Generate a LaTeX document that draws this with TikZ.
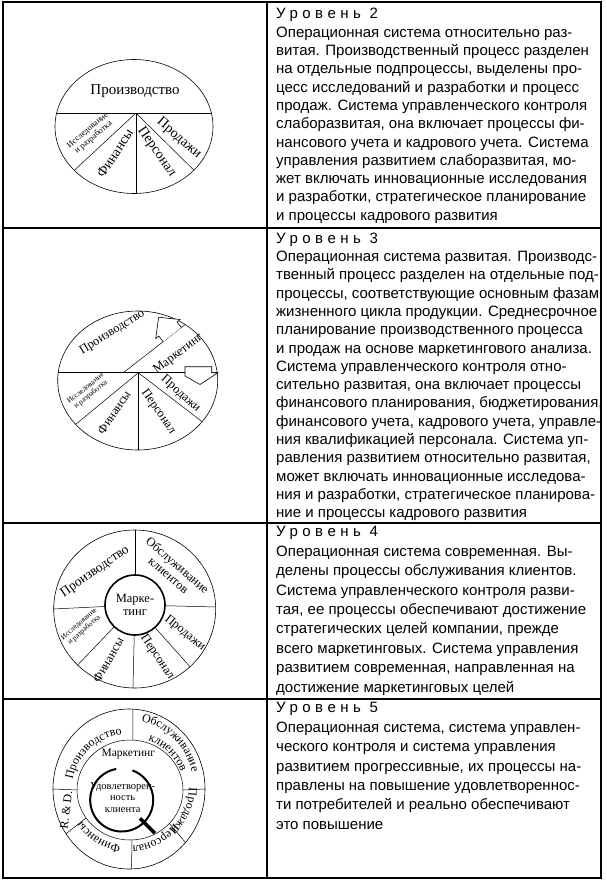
\documentclass[tikz,border=0pt]{standalone}
\usepackage{fontspec}
\setmainfont{Liberation Serif}
\setsansfont{Liberation Sans}
\usepackage{tikz}
\usetikzlibrary{decorations.text}
\newcommand{\levelhead}[1]{{\addfontfeature{LetterSpace=30}#1}}
\tikzset{
  tbl/.style={line width=1.2pt},
  seg/.style={line width=0.5pt},
  rim/.style={line width=0.6pt},
  blk/.style={line width=0.6pt, fill=white},
  hub/.style={circle, draw, line width=1.6pt, fill=white, minimum size=60pt, inner sep=0pt,
              align=center, font=\fontsize{12.5}{13.5}\selectfont},
  lab/.style={font=\fontsize{14}{15}\selectfont, inner sep=0pt},
  labm/.style={font=\fontsize{12.5}{13.5}\selectfont, inner sep=0pt},
  tiny/.style={font=\fontsize{7.5}{8}\selectfont, align=center, inner sep=0pt},
  desc/.style={font=\sffamily\fontsize{15}{18.3}\selectfont, align=left, anchor=north west, inner sep=0pt}
}

\begin{document}
\begin{tikzpicture}[x=1pt, y=1pt]
  \useasboundingbox (0,0) rectangle (606,-881);
  % table
  \draw[tbl] (3,-2) rectangle (601,-878);
  \draw[tbl] (267,-2) -- (267,-878);
  \foreach \y in {228,523,699} \draw[tbl] (3,-\y) -- (601,-\y);
  % level 2
  \coordinate (c1) at (134,-126.5);
  \coordinate (v1) at (136,-113);
  \begin{scope}
    \clip (c1) ellipse [x radius=79, y radius=67];
    \draw[seg] (40,-113) -- (230,-113);
    \draw[seg] (v1) -- ++(0,-90);
    \draw[seg] (v1) -- ++(-85,-79);
    \draw[seg] (v1) -- ++(83.5,-82.5);
  \end{scope}
  \draw[rim] (c1) ellipse [x radius=79, y radius=67];
  \node[lab, font=\fontsize{15}{16}\selectfont] (prod1) at (135,-91.5) {Производство};
  \node[tiny, font=\fontsize{8.5}{9}\selectfont, rotate=40] (res1) at (90.7,-134) {Исследование\\и разработка};
  \node[lab, rotate=57] (fin1) at (115,-153.3) {Финансы};
  \node[lab, rotate=-55] (pers1) at (156.7,-152.3) {Персонал};
  \node[lab, rotate=-41] (sale1) at (179,-138.3) {Продажи};
  % level 3
  \coordinate (c2) at (137.7,-380.5);
  \coordinate (v2) at (138.3,-372.7);
  \coordinate (m2) at (123.3,-372.7);
  \begin{scope}
    \clip (c2) ellipse [x radius=80, y radius=69.5];
    \draw[seg] (40,-372.7) -- (240,-372.7);
    \draw[seg] (v2) -- ++(0,-90);
    \draw[seg] (v2) -- ++(-91.5,-75.5);
    \draw[seg] (v2) -- ++(92.5,-71);
    \draw[seg] (m2) -- ++(94.7,73.7);
  \end{scope}
  \draw[rim] (c2) ellipse [x radius=80, y radius=69.5];
  \coordinate (a2) at (172.2,-334.6);
  \begin{scope}[shift={(a2)}, rotate=127.9]
    \draw[blk] (0,-11.5) -- (7,-11.5) -- (7,-15.5) -- (22,0) -- (7,15.5) -- (7,11.5) -- (0,11.5);
  \end{scope}
  \draw[blk] (185,-366.7) -- (211.7,-366.7) -- (211.7,-372.7) -- (218,-372.7) -- (200,-384.5)
    -- (185,-376) -- cycle;
  \node[labm, rotate=32] (prod2) at (112.3,-332.3) {Производство};
  \node[labm, rotate=37] (mark2) at (178.3,-354) {Маркетинг};
  \node[labm, rotate=-42] (sale2) at (180.7,-394) {Продажи};
  \node[labm, rotate=-55] (pers2) at (158.3,-411.7) {Персонал};
  \node[labm, rotate=56] (fin2) at (114,-412.3) {Финансы};
  \node[tiny, rotate=39] (res2) at (88.3,-391.7) {Исследование\\и разработка};
  % level 4
  \coordinate (c3) at (134.7,-609);
  \coordinate (o3) at (135,-605);
  \begin{scope}
    \clip (c3) ellipse [x radius=81, y radius=79];
    \foreach \a in {90,-1.4,-48.3,-91.4,-133.7,182.8} \draw[seg] (o3) -- ++(\a:120);
  \end{scope}
  \draw[rim] (c3) ellipse [x radius=81, y radius=79];
  \node[hub] (mark3) at (o3) {Марке-\\тинг};
  \node[labm, font=\fontsize{13.5}{14.5}\selectfont, rotate=35] (prod3) at (95,-571.7) {Производство};
  \node[labm, align=center, rotate=-41] (serv3) at (173.3,-570) {Обслуживание\\клиентов};
  \node[tiny, rotate=41] (res3) at (81.7,-627.3) {Исследование\\и разработка};
  \node[labm, rotate=60] (fin3) at (108.3,-660) {Финансы};
  \node[labm, rotate=-56] (pers3) at (157.3,-657.3) {Персонал};
  \node[labm, rotate=-39] (sale3) at (185,-633.3) {Продажи};
  % level 5
  \coordinate (c4) at (129,-789);
  \coordinate (i4) at (130,-790);
  \draw[rim] (c4) ellipse [x radius=76, y radius=80];
  \draw[seg] (i4) ellipse [x radius=53, y radius=50];
  \foreach \a in {87,0,-42,-88,214,180}
    \draw[seg] ([shift={(\a:53 and 50)}]i4) -- ([shift={(\a:76 and 80)}]c4);
  \path[decorate, decoration={text along path, text align=center, text={|\fontsize{12}{13}\selectfont|Производство}}]
    ([shift={(184:57 and 55)}]c4) arc[start angle=184, end angle=84, x radius=57, y radius=55];
  \path[decorate, decoration={text along path, text align=center, text={|\fontsize{12}{13}\selectfont|Обслуживание}}]
    ([shift={(92:65 and 69)}]c4) arc[start angle=92, end angle=2, x radius=65, y radius=69];
  \path[decorate, decoration={text along path, text align=center, text={|\fontsize{12}{13}\selectfont|клиентов}}]
    ([shift={(89:55 and 52)}]c4) arc[start angle=89, end angle=-1, x radius=55, y radius=52];
  \path[decorate, decoration={text along path, text align=center, text={|\fontsize{12}{13}\selectfont|Продажи}}]
    ([shift={(23:60 and 56)}]c4) arc[start angle=23, end angle=-67, x radius=60, y radius=56];
  \path[decorate, decoration={text along path, text align=center, text={|\fontsize{12}{13}\selectfont|Персонал}}]
    ([shift={(-17:57 and 57)}]c4) arc[start angle=-17, end angle=-107, x radius=57, y radius=57];
  \path[decorate, decoration={text along path, text align=center, text={|\fontsize{12}{13}\selectfont|Финансы}}]
    ([shift={(283:57 and 57)}]c4) arc[start angle=283, end angle=193, x radius=57, y radius=57];
  \node[labm, font=\fontsize{12}{13}\selectfont, rotate=83] (rd4) at (66,-810) {R.~\&~D.};
  \node[labm, font=\fontsize{11.5}{12.5}\selectfont] (mark4) at (128.3,-754) {Маркетинг};
  \coordinate (o4) at (121.7,-800);
  \draw[line width=2pt] ([shift={(100:31.5)}]o4) arc[start angle=100, end angle=430, radius=31.5];
  \draw[line width=3.5pt] ([shift={(-45:26)}]o4) -- ([shift={(-45:47)}]o4);
  \node[labm, font=\fontsize{10.5}{11.5}\selectfont, align=center] (sat4) at (122.7,-797.3)
    {Удовлетворен-\\ность\\клиента};
  % descriptions
  \node[desc] (txt2) at (276,-8.3) {\levelhead{Уровень 2}\\
    Операционная система относительно раз-\\
    витая. Производственный процесс разделен\\
    на отдельные подпроцессы, выделены про-\\
    цесс исследований и разработки и процесс\\
    продаж. Система управленческого контроля\\
    слаборазвитая, она включает процессы фи-\\
    нансового учета и кадрового учета. Система\\
    управления развитием слаборазвитая, мо-\\
    жет включать инновационные исследования\\
    и разработки, стратегическое планирование\\
    и процессы кадрового развития};
  \node[desc] (txt3) at (276,-232.6) {\levelhead{Уровень 3}\\
    Операционная система развитая. Производс-\\
    твенный процесс разделен на отдельные под-\\
    процессы, соответствующие основным фазам\\
    жизненного цикла продукции. Среднесрочное\\
    планирование производственного процесса\\
    и продаж на основе маркетингового анализа.\\
    Система управленческого контроля отно-\\
    сительно развитая, она включает процессы\\
    финансового планирования, бюджетирования,\\
    финансового учета, кадрового учета, управле-\\
    ния квалификацией персонала. Система уп-\\
    равления развитием относительно развитая,\\
    может включать инновационные исследова-\\
    ния и разработки, стратегическое планирова-\\
    ние и процессы кадрового развития};
  \node[desc, font=\sffamily\fontsize{15}{19.4}\selectfont] (txt4) at (276,-526.3) {\levelhead{Уровень 4}\\
    Операционная система современная. Вы-\\
    делены процессы обслуживания клиентов.\\
    Система управленческого контроля разви-\\
    тая, ее процессы обеспечивают достижение\\
    стратегических целей компании, прежде\\
    всего маркетинговых. Система управления\\
    развитием современная, направленная на\\
    достижение маркетинговых целей};
  \node[desc, font=\sffamily\fontsize{15}{19.4}\selectfont] (txt5) at (276,-702.3) {\levelhead{Уровень 5}\\
    Операционная система, система управлен-\\
    ческого контроля и система управления\\
    развитием прогрессивные, их процессы на-\\
    правлены на повышение удовлетвореннос-\\
    ти потребителей и реально обеспечивают\\
    это повышение};
\end{tikzpicture}
\end{document}
